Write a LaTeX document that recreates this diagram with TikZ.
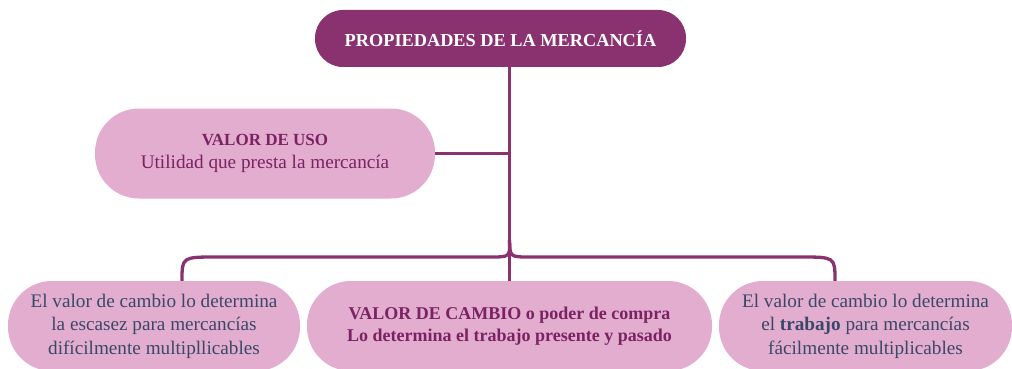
\documentclass[tikz,border=0pt]{standalone}
\usepackage{fontspec}
\setmainfont{Liberation Serif}
\usetikzlibrary{positioning}
\definecolor{ciruela}{HTML}{8A3270}
\definecolor{rosa}{HTML}{E3ADCF}
\definecolor{tinta}{HTML}{3A4868}
\definecolor{morado}{HTML}{7A2262}

\begin{document}
\begin{tikzpicture}[x=1pt,y=-1pt]
    \tikzstyle{caja}=[rectangle, fill=rosa, draw=none, align=center, inner sep=0pt]
    \tikzstyle{titulo}=[caja, fill=ciruela, text=white, font=\bfseries\fontsize{18.3}{22}\selectfont, minimum width=371pt, minimum height=57pt, rounded corners=28pt]
    \tikzstyle{rama}=[caja, minimum height=90pt, rounded corners=44pt, font=\fontsize{19.2}{23.5}\selectfont]
    \tikzstyle{enlace}=[draw=ciruela, line width=3.3pt]

    \useasboundingbox (0,0) rectangle (1012,369);

    \node[titulo] (P) at (500.5,38.5) {PROPIEDADES DE LA MERCANCÍA};
    \node[rama, minimum width=340pt, text=morado] (U) at (265,153.5)
        {{\bfseries\fontsize{17}{23.5}\selectfont VALOR DE USO}\\Utilidad que presta la mercancía};
    \node[rama, minimum width=292pt, text=tinta] (E) at (154,326)
        {El valor de cambio lo determina\\la escasez para mercancías\\difícilmente multipllicables};
    \node[rama, minimum width=405pt, text=morado, font=\bfseries\fontsize{18}{22.5}\selectfont] (C) at (509.5,326)
        {VALOR DE CAMBIO o poder de compra\\Lo determina el trabajo presente y pasado};
    \node[rama, minimum width=293pt, text=tinta] (T) at (865.5,326)
        {El valor de cambio lo determina\\el \textbf{trabajo} para mercancías\\fácilmente multiplicables};

    % tronco y ramas
    \coordinate (hub) at (C.north |- 0,240);
    \coordinate (Ea) at (E.north -| 182,0);
    \coordinate (Ta) at (T.north -| 835,0);

    \draw[enlace] (P.south -| C.north) -- (C.north);
    \draw[enlace] (U.east) -- (U.east -| C.north);
    \draw[enlace] (hub) .. controls (510,257) .. (490,257) -- (217,257) .. controls (182,257) .. (Ea);
    \draw[enlace] (hub) .. controls (510,257) .. (530,257) -- (800,257) .. controls (835,257) .. (Ta);
\end{tikzpicture}
\end{document}
